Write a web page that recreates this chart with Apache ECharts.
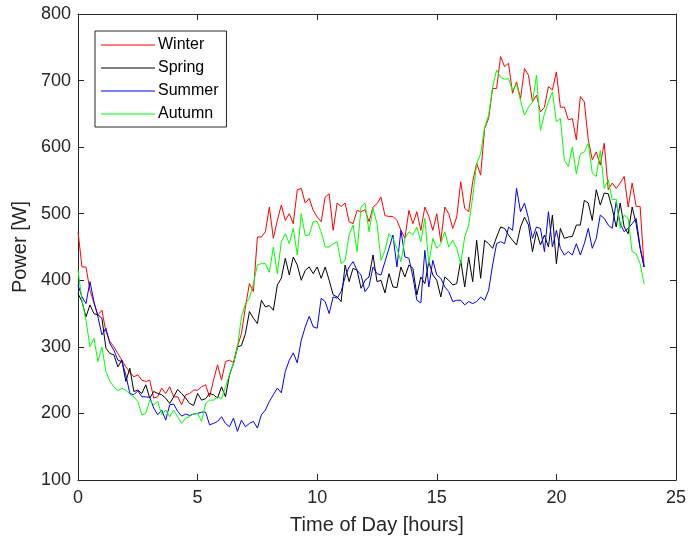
<!DOCTYPE html>
<html>
<head>
<meta charset="utf-8">
<script src="https://cdn.jsdelivr.net/npm/echarts@6/dist/echarts.min.js"></script>
<style>html,body{margin:0;padding:0;background:#fff}#c{width:691px;height:537px}</style>
</head>
<body>
<div id="c"></div>
<script>
const seriesNames = ['Winter', 'Spring', 'Summer', 'Autumn'];
const sampleMinutes = 10;
const xTicks = [0, 5, 10, 15, 20, 25];
const yTicks = [100, 200, 300, 400, 500, 600, 700, 800];

const winter = [
473,420,420,385,366,348,355,323,308,300,
290,280,270,262,255,258,250,248,250,223,
225,238,230,240,225,225,213,228,230,235,
235,240,243,225,250,273,250,278,280,276,
300,320,360,395,383,465,465,473,510,463,
490,513,490,500,485,536,538,516,523,505,
495,488,525,530,475,516,511,516,488,485,
505,503,506,488,510,515,525,497,496,496,
490,475,463,505,485,503,475,510,496,475,
500,458,510,500,478,495,548,508,503,548,
576,558,628,643,688,688,736,721,726,681,
698,673,718,708,668,678,653,660,691,686,
713,660,660,641,643,611,676,668,611,581,
593,573,606,536,546,538,546,556,510,546,
511,511,420];

const spring = [
380,368,345,363,350,348,343,298,290,288,
270,280,248,268,233,235,230,243,223,233,
230,228,223,215,225,236,230,223,215,212,
230,220,222,230,228,223,240,225,258,275,
300,302,320,353,343,335,370,360,362,355,
393,403,433,408,435,423,400,415,420,410,
420,403,420,400,378,375,368,423,398,418,
415,388,400,405,438,398,400,381,410,390,
389,420,405,423,418,378,405,395,428,408,
400,375,405,400,393,395,430,390,435,398,
460,403,460,455,448,465,480,478,468,460,
453,480,495,483,443,473,453,468,450,498,
425,478,463,465,466,483,483,520,516,490,
536,513,531,530,508,480,516,480,470,510,
485,448,420];

const summer = [
393,375,365,398,368,345,318,328,305,295,
280,278,258,230,228,234,225,225,224,208,
198,205,190,213,214,203,196,199,197,199,
200,202,202,183,185,188,195,185,180,193,
173,190,180,185,188,178,198,205,218,228,
238,231,263,280,291,276,310,330,346,330,
328,373,368,350,375,373,383,405,420,428,
415,408,383,391,420,410,408,428,448,468,
420,475,435,433,405,370,366,445,390,430,
408,403,390,383,368,370,370,363,368,365,
368,375,370,385,423,455,458,455,480,475,
538,503,516,493,463,480,478,443,503,450,
475,448,438,443,438,455,438,455,478,448,
463,498,493,483,478,518,485,473,478,485,
493,450,420];

const autumn = [
415,370,340,300,313,278,300,263,248,240,
234,238,235,229,225,218,198,200,220,213,
218,198,205,195,205,195,185,193,195,200,
200,188,215,220,220,225,222,240,258,275,
300,345,365,373,395,423,425,425,412,450,
410,458,470,455,478,438,500,467,468,488,
488,473,450,450,455,458,425,430,468,483,
443,510,516,473,508,485,430,445,470,463,
448,428,463,473,468,480,458,493,425,463,
448,455,473,450,460,448,425,465,483,525,
575,590,630,648,690,716,705,702,703,685,
695,670,648,660,668,708,625,650,668,683,
638,643,580,571,600,560,590,593,606,561,
556,595,538,551,521,522,478,498,493,443,
440,425,394];

const colors = ['#ff0000', '#000000', '#0000ff', '#00ff00'];
const allValues = [winter, spring, summer, autumn];

const axisColor = '#262626';
const fontFamily = '"Liberation Sans", Arial, Helvetica, sans-serif';

function pairs(vals) {
  return vals.map((v, i) => [i * sampleMinutes / 60, v]);
}

function baseAxis(extra) {
  return Object.assign({
    type: 'value',
    axisLine: { show: true, onZero: false, lineStyle: { color: axisColor, width: 1 } },
    axisTick: { show: true, inside: true, length: 6, lineStyle: { color: axisColor, width: 1 } },
    splitLine: { show: false }
  }, extra);
}

const chart = echarts.init(document.getElementById('c'), null, { renderer: 'canvas' });
chart.setOption({
  animation: false,
  backgroundColor: '#ffffff',
  grid: { left: 78, right: 15, top: 14, bottom: 57, containLabel: false, outerBoundsMode: 'none' },
  xAxis: [
    baseAxis({
      min: xTicks[0], max: xTicks[xTicks.length - 1], interval: xTicks[1] - xTicks[0],
      position: 'bottom',
      axisLabel: { color: axisColor, fontSize: 18, fontFamily: fontFamily, margin: 9 },
      name: 'Time of Day [hours]', nameLocation: 'middle', nameGap: 35,
      nameTextStyle: { color: axisColor, fontSize: 20, fontFamily: fontFamily }
    }),
    baseAxis({
      min: xTicks[0], max: xTicks[xTicks.length - 1], interval: xTicks[1] - xTicks[0],
      position: 'top', axisLabel: { show: false }
    })
  ],
  yAxis: [
    baseAxis({
      min: yTicks[0], max: yTicks[yTicks.length - 1], interval: yTicks[1] - yTicks[0],
      position: 'left',
      axisLabel: { color: axisColor, fontSize: 18, fontFamily: fontFamily, margin: 7 },
      name: 'Power [W]', nameLocation: 'middle', nameGap: 45,
      nameTextStyle: { color: axisColor, fontSize: 20, fontFamily: fontFamily }
    }),
    baseAxis({
      min: yTicks[0], max: yTicks[yTicks.length - 1], interval: yTicks[1] - yTicks[0],
      position: 'right', axisLabel: { show: false }
    })
  ],
  legend: {
    data: seriesNames.map(n => ({ name: n, icon: 'rect' })),
    orient: 'vertical',
    left: 95, top: 31,
    padding: [6, 8, 5, 6],
    itemGap: 7,
    itemWidth: 54,
    itemHeight: 1.2,
    backgroundColor: '#ffffff',
    borderColor: axisColor,
    borderWidth: 1,
    textStyle: { color: '#000000', fontSize: 16, fontFamily: fontFamily, lineHeight: 16, padding: [0, 0, 0, -2] }
  },
  series: seriesNames.map((name, k) => ({
    name: name,
    type: 'line',
    xAxisIndex: 0,
    yAxisIndex: 0,
    data: pairs(allValues[k]),
    symbol: 'none',
    showSymbol: false,
    color: colors[k],
    itemStyle: { color: colors[k] },
    lineStyle: { color: colors[k], width: 1 }
  }))
});
</script>
</body>
</html>
